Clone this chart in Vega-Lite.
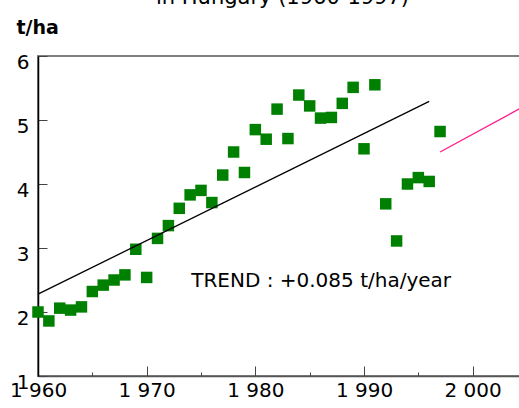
{
  "$schema": "https://vega.github.io/schema/vega-lite/v6.json",
  "width": 489,
  "height": 320,
  "autosize": "none",
  "padding": {"left": 38, "top": 56, "right": 0, "bottom": 32},
  "background": "white",
  "title": {"text": "in Hungary (1960-1997)", "font": "DejaVu Sans", "fontSize": 21, "fontWeight": "normal", "color": "#000000", "anchor": "middle", "frame": "group", "baseline": "alphabetic", "offset": 0, "dy": 6.5},
  "config": {"view": {"stroke": "#808080", "strokeWidth": 2}, "font": "DejaVu Sans"},
  "datasets": {
    "yields": [
      {"year": 1960, "t": 2.0}, {"year": 1961, "t": 1.86}, {"year": 1962, "t": 2.06}, {"year": 1963, "t": 2.03},
      {"year": 1964, "t": 2.08}, {"year": 1965, "t": 2.32}, {"year": 1966, "t": 2.42}, {"year": 1967, "t": 2.5},
      {"year": 1968, "t": 2.58}, {"year": 1969, "t": 2.98}, {"year": 1970, "t": 2.54}, {"year": 1971, "t": 3.15},
      {"year": 1972, "t": 3.35}, {"year": 1973, "t": 3.62}, {"year": 1974, "t": 3.83}, {"year": 1975, "t": 3.9},
      {"year": 1976, "t": 3.71}, {"year": 1977, "t": 4.14}, {"year": 1978, "t": 4.5}, {"year": 1979, "t": 4.18},
      {"year": 1980, "t": 4.85}, {"year": 1981, "t": 4.7}, {"year": 1982, "t": 5.17}, {"year": 1983, "t": 4.71},
      {"year": 1984, "t": 5.39}, {"year": 1985, "t": 5.22}, {"year": 1986, "t": 5.03}, {"year": 1987, "t": 5.04},
      {"year": 1988, "t": 5.26}, {"year": 1989, "t": 5.51}, {"year": 1990, "t": 4.55}, {"year": 1991, "t": 5.55},
      {"year": 1992, "t": 3.69}, {"year": 1993, "t": 3.11}, {"year": 1994, "t": 4.0}, {"year": 1995, "t": 4.1},
      {"year": 1996, "t": 4.04}, {"year": 1997, "t": 4.82}
    ],
    "trends": [
      {"series": "trend", "year": 1960, "t": 2.28},
      {"series": "trend", "year": 1996, "t": 5.29},
      {"series": "projection", "year": 1997, "t": 4.5},
      {"series": "projection", "year": 2005, "t": 5.24}
    ]
  },
  "layer": [
    {
      "data": {"name": "yields"},
      "mark": {"type": "point", "shape": "square", "filled": true, "size": 132, "color": "#008000", "opacity": 1},
      "encoding": {
        "x": {
          "field": "year", "type": "quantitative",
          "scale": {"domain": [1960, 2005], "nice": false, "zero": false},
          "axis": {
            "title": null, "grid": false,
            "values": [1960, 1965, 1970, 1975, 1980, 1985, 1990, 1995, 2000],
            "tickSize": {"condition": {"test": "datum.value % 10 === 0", "value": -10}, "value": -4},
            "tickColor": "#444444", "tickWidth": 1,
            "domainColor": "#555555", "domainWidth": 1.5,
            "labelExpr": "datum.value % 10 === 0 ? substring(toString(datum.value), 0, 1) + ' ' + substring(toString(datum.value), 1) : ''",
            "labelFont": "DejaVu Sans", "labelFontSize": 20, "labelColor": "#000000",
            "labelPadding": 14.5, "labelFlush": false, "labelOverlap": false, "labelBaseline": "top", "labelBound": false
          }
        },
        "y": {
          "field": "t", "type": "quantitative",
          "scale": {"domain": [1, 6], "nice": false, "zero": false},
          "axis": {
            "title": "t/ha", "titleAngle": 0, "titleAlign": "left", "titleBaseline": "alphabetic",
            "titleX": -22, "titleY": -22.7, "titleFont": "DejaVu Sans", "titleFontSize": 19, "titleFontWeight": "bold", "titleColor": "#000000",
            "grid": false,
            "values": [1, 1.5, 2, 2.5, 3, 3.5, 4, 4.5, 5, 5.5, 6],
            "tickSize": {"condition": {"test": "datum.value % 1 === 0", "value": -9}, "value": -5},
            "tickColor": "#444444", "tickWidth": 1,
            "domainColor": "#000000", "domainWidth": 1.5,
            "labelExpr": "datum.value % 1 === 0 ? toString(datum.value) : ''",
            "labelFont": "DejaVu Sans", "labelFontSize": 20, "labelColor": "#000000",
            "labelPadding": 18, "labelOffset": 6, "labelBaseline": "middle", "labelAlign": "right", "labelOverlap": false, "labelBound": false, "labelFlush": false
          }
        }
      }
    },
    {
      "data": {"name": "trends"},
      "mark": {"type": "line", "strokeWidth": 1.3},
      "encoding": {
        "x": {"field": "year", "type": "quantitative"},
        "y": {"field": "t", "type": "quantitative"},
        "color": {"field": "series", "type": "nominal", "scale": {"domain": ["trend", "projection"], "range": ["#000000", "#ff1a8c"]}, "legend": null}
      }
    },
    {
      "data": {"values": [{"label": "TREND : +0.085 t/ha/year"}]},
      "mark": {"type": "text", "align": "left", "baseline": "alphabetic", "fontSize": 20, "font": "DejaVu Sans", "color": "#000000"},
      "encoding": {
        "x": {"datum": 1974.1, "type": "quantitative"},
        "y": {"datum": 2.386, "type": "quantitative"},
        "text": {"field": "label"}
      }
    }
  ]
}
